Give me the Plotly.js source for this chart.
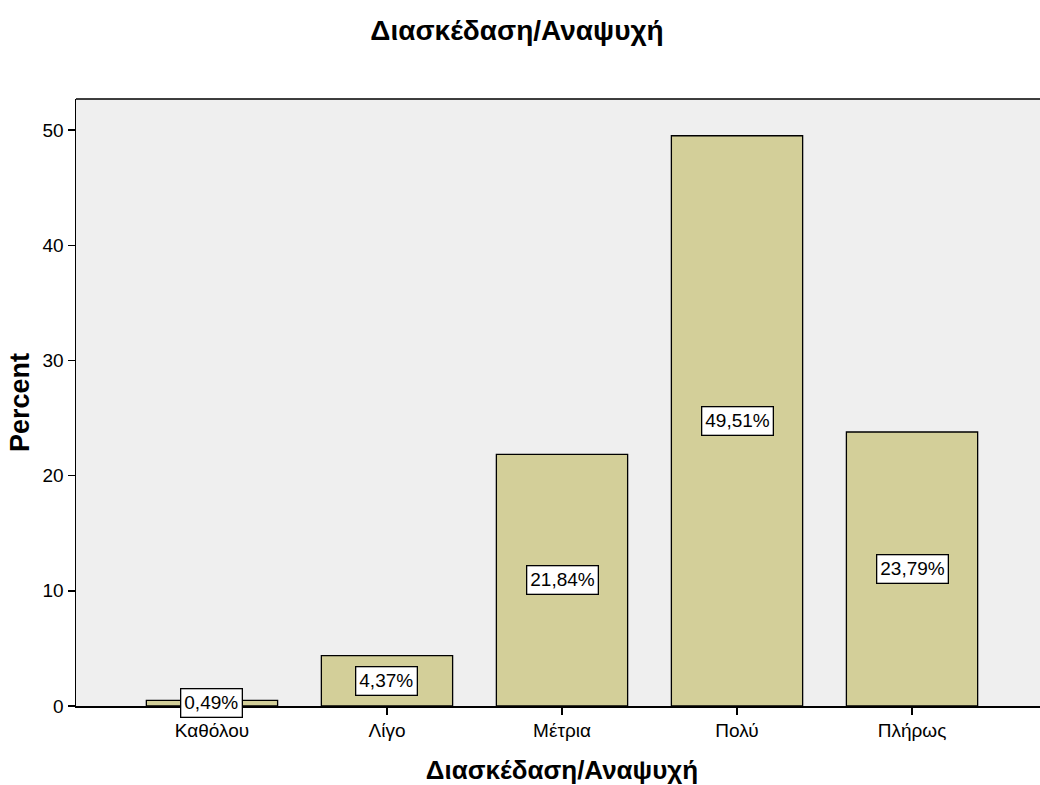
<!DOCTYPE html>
<html>
<head>
<meta charset="utf-8">
<script src="https://cdn.plot.ly/plotly-3.0.1.min.js"></script>
<style>
  html, body { margin: 0; padding: 0; overflow: hidden; background: #fff; }
  #chart { width: 1060px; height: 785px; }
</style>
</head>
<body>
<div id="chart"></div>
<script>
// Response categories and their share of respondents (%)
const categories = ['Καθόλου', 'Λίγο', 'Μέτρια', 'Πολύ', 'Πλήρως'];
const percents = [0.49, 4.37, 21.84, 49.51, 23.79];
const chartTitle = 'Διασκέδαση/Αναψυχή';
const yTitle = 'Percent';

const FONT = 'Liberation Sans, Arial, sans-serif';

// Percentage labels in boxes, centred at half of each bar's height
const labels = categories.map((c, i) => ({
  x: c,
  y: percents[i] / 2,
  xref: 'x', yref: 'y',
  text: percents[i].toFixed(2).replace('.', ',') + '%',
  showarrow: false,
  font: { family: FONT, size: 19, color: '#000' },
  bgcolor: '#ffffff',
  bordercolor: '#000000',
  borderwidth: 1.3,
  borderpad: 3
}));

const trace = {
  type: 'bar',
  x: categories,
  y: percents,
  width: 0.75,
  marker: { color: '#d3cf99', line: { color: '#000000', width: 1.3 } },
  hoverinfo: 'x+y'
};

const layout = {
  width: 1060,
  height: 785,
  margin: { l: 76, r: 12, t: 99, b: 79 },
  paper_bgcolor: '#ffffff',
  plot_bgcolor: '#efefef',
  showlegend: false,
  font: { family: FONT, size: 19, color: '#000' },
  title: {
    text: '<b>' + chartTitle + '</b>',
    font: { family: FONT, size: 28, color: '#000' },
    xref: 'container', x: 517 / 1060, xanchor: 'center',
    yref: 'container', y: 1 - 30 / 785, yanchor: 'middle'
  },
  xaxis: {
    type: 'category',
    range: [-0.777, 4.777],
    showline: true, linecolor: '#000', linewidth: 1.5,
    mirror: false,
    ticks: 'outside', ticklen: 7, tickwidth: 1.5, tickcolor: '#000',
    showgrid: false, zeroline: false,
    tickfont: { family: FONT, size: 19, color: '#000' },
    title: {
      text: '<b>' + chartTitle + '</b>',
      font: { family: FONT, size: 26, color: '#000' },
      standoff: 20
    }
  },
  yaxis: {
    range: [0, 52.7],
    tickvals: [0, 10, 20, 30, 40, 50],
    showline: true, linecolor: '#000', linewidth: 1.5,
    mirror: false,
    ticks: 'outside', ticklen: 7, tickwidth: 1.5, tickcolor: '#000',
    showgrid: false, zeroline: false,
    tickfont: { family: FONT, size: 19, color: '#000' },
    title: {
      text: '<b>' + yTitle + '</b>',
      font: { family: FONT, size: 27, color: '#000' },
      standoff: 5
    }
  },
  shapes: [
    // top border of the plot frame
    { type: 'line', xref: 'paper', yref: 'paper', x0: 0, x1: 1, y0: 1, y1: 1,
      line: { color: '#000', width: 1.5 } }
  ],
  annotations: labels
};

Plotly.newPlot('chart', [trace], layout, { displayModeBar: false, staticPlot: true });
</script>
</body>
</html>
